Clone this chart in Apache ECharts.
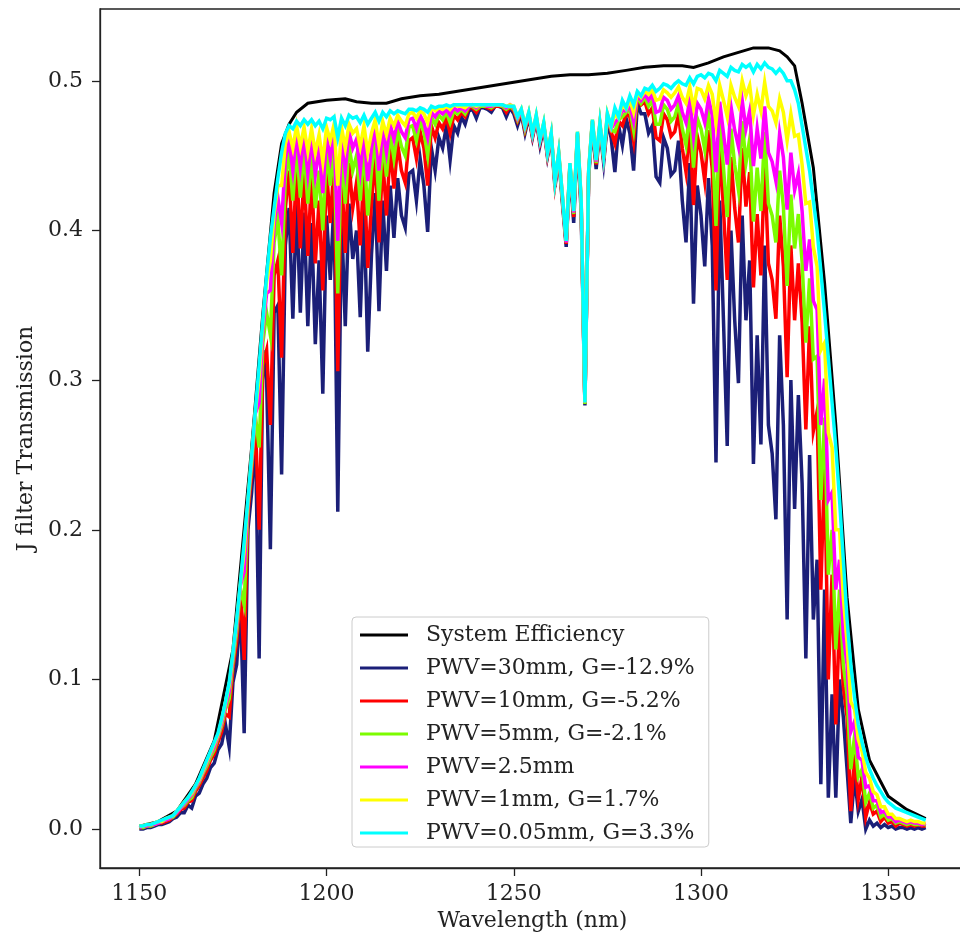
<!DOCTYPE html>
<html><head><meta charset="utf-8">
<script src="https://cdn.jsdelivr.net/npm/echarts@6/dist/echarts.min.js"></script>
<style>html,body{margin:0;padding:0;background:#fff}#c{width:960px;height:938px}</style>
</head><body><div id="c"></div>
<script>
// Wavelength grid (nm)
const wavelength = [
1150,1151,1152,1153,1154,1155,1156,1157,1158,1159,
1160,1161,1162,1163,1164,1165,1166,1167,1168,1169,
1170,1171,1172,1173,1174,1175,1176,1177,1178,1179,
1180,1181,1182,1183,1184,1185,1186,1187,1188,1189,
1190,1191,1192,1193,1194,1195,1196,1197,1198,1199,
1200,1201,1202,1203,1204,1205,1206,1207,1208,1209,
1210,1211,1212,1213,1214,1215,1216,1217,1218,1219,
1220,1221,1222,1223,1224,1225,1226,1227,1228,1229,
1230,1231,1232,1233,1234,1235,1236,1237,1238,1239,
1240,1241,1242,1243,1244,1245,1246,1247,1248,1249,
1250,1251,1252,1253,1254,1255,1256,1257,1258,1259,
1260,1261,1262,1263,1264,1265,1266,1267,1268,1269,
1270,1271,1272,1273,1274,1275,1276,1277,1278,1279,
1280,1281,1282,1283,1284,1285,1286,1287,1288,1289,
1290,1291,1292,1293,1294,1295,1296,1297,1298,1299,
1300,1301,1302,1303,1304,1305,1306,1307,1308,1309,
1310,1311,1312,1313,1314,1315,1316,1317,1318,1319,
1320,1321,1322,1323,1324,1325,1326,1327,1328,1329,
1330,1331,1332,1333,1334,1335,1336,1337,1338,1339,
1340,1341,1342,1343,1344,1345,1346,1347,1348,1349,
1350,1351,1352,1353,1354,1355,1356,1357,1358,1359,
1360];

const pwv30 = [
.000,.000,.001,.001,.002,.003,.003,.004,.005,.007,
.008,.011,.011,.016,.014,.022,.024,.030,.034,.041,
.044,.053,.057,.070,.055,.098,.110,.150,.064,.200,
.225,.265,.114,.320,.300,.187,.345,.350,.237,.390,
.415,.341,.420,.345,.412,.336,.405,.324,.380,.291,
.410,.367,.420,.212,.410,.336,.418,.381,.400,.342,
.415,.319,.384,.425,.346,.420,.373,.430,.395,.435,
.410,.402,.438,.440,.420,.448,.430,.399,.455,.440,
.462,.455,.470,.447,.470,.465,.476,.471,.480,.481,
.475,.482,.482,.481,.479,.483,.483,.482,.476,.482,
.478,.470,.478,.465,.476,.462,.474,.457,.469,.449,
.462,.429,.449,.418,.389,.442,.405,.463,.412,.283,
.436,.470,.441,.468,.445,.472,.462,.439,.470,.457,
.475,.465,.440,.485,.478,.478,.465,.470,.436,.432,
.462,.455,.437,.440,.460,.420,.392,.445,.351,.430,
.410,.376,.435,.390,.245,.420,.340,.256,.400,.340,
.298,.410,.340,.380,.244,.330,.257,.390,.270,.251,
.207,.330,.270,.140,.300,.214,.290,.231,.114,.250,
.140,.180,.030,.160,.021,.090,.021,.100,.075,.040,
.004,.035,.012,.020,.000,.006,.002,.004,.001,.003,
.001,.002,.000,.001,.001,.000,.001,.000,.001,.000,
.001];

const pwv10 = [
.001,.001,.002,.002,.003,.004,.004,.005,.006,.008,
.010,.013,.014,.018,.019,.025,.029,.034,.039,.046,
.050,.058,.065,.077,.075,.108,.125,.158,.113,.210,
.238,.272,.200,.310,.320,.270,.370,.380,.315,.415,
.440,.385,.445,.388,.440,.383,.438,.378,.420,.360,
.440,.405,.445,.306,.440,.385,.445,.415,.432,.390,
.442,.375,.418,.450,.392,.448,.410,.455,.428,.458,
.440,.432,.460,.462,.448,.466,.455,.430,.470,.462,
.472,.468,.476,.465,.477,.474,.479,.476,.482,.482,
.479,.483,.483,.482,.481,.483,.483,.483,.479,.483,
.480,.473,.479,.467,.477,.463,.475,.459,.470,.450,
.463,.431,.450,.420,.391,.443,.409,.464,.416,.284,
.438,.472,.444,.470,.447,.475,.466,.458,.473,.470,
.478,.476,.460,.489,.484,.486,.478,.482,.462,.460,
.478,.474,.463,.466,.478,.455,.439,.471,.417,.463,
.452,.433,.467,.441,.360,.459,.414,.367,.449,.415,
.392,.455,.416,.439,.362,.411,.370,.445,.378,.367,
.341,.410,.376,.302,.390,.340,.378,.339,.267,.336,
.266,.279,.160,.243,.100,.170,.070,.140,.095,.075,
.012,.050,.020,.035,.008,.018,.010,.012,.005,.008,
.004,.005,.002,.004,.003,.002,.003,.002,.003,.002,
.002];

const pwv5 = [
.001,.001,.002,.002,.003,.004,.005,.006,.007,.008,
.011,.014,.016,.019,.021,.027,.031,.037,.042,.048,
.053,.061,.069,.080,.087,.112,.132,.161,.150,.215,
.244,.276,.255,.325,.345,.330,.392,.408,.370,.435,
.452,.420,.456,.422,.454,.418,.452,.415,.440,.400,
.454,.430,.457,.358,.454,.418,.457,.440,.450,.420,
.456,.410,.440,.462,.420,.460,.436,.465,.448,.467,
.456,.450,.469,.470,.460,.473,.466,.450,.476,.471,
.477,.474,.479,.472,.480,.478,.481,.478,.483,.483,
.481,.483,.483,.483,.482,.484,.484,.483,.481,.483,
.481,.474,.480,.468,.478,.464,.476,.460,.471,.451,
.464,.432,.451,.421,.392,.444,.411,.465,.418,.284,
.439,.473,.445,.471,.448,.476,.467,.466,.474,.476,
.479,.481,.467,.490,.485,.489,.483,.487,.471,.471,
.484,.481,.473,.476,.485,.468,.457,.480,.442,.475,
.468,.454,.478,.461,.403,.474,.442,.409,.468,.444,
.427,.473,.445,.461,.406,.442,.413,.466,.418,.410,
.392,.440,.416,.363,.424,.388,.411,.379,.325,.368,
.314,.316,.220,.275,.170,.200,.120,.160,.110,.090,
.040,.062,.035,.040,.018,.024,.014,.016,.008,.010,
.006,.007,.004,.005,.004,.003,.004,.003,.003,.003,
.003];

const pwv2p5 = [
.001,.002,.002,.003,.003,.004,.005,.006,.007,.009,
.011,.014,.017,.020,.023,.028,.032,.038,.044,.050,
.055,.062,.071,.082,.092,.115,.136,.163,.172,.217,
.247,.278,.285,.333,.358,.360,.404,.422,.405,.448,
.460,.440,.465,.442,.463,.438,.462,.437,.455,.425,
.463,.448,.466,.393,.463,.440,.466,.455,.461,.440,
.465,.433,.455,.469,.440,.468,.452,.471,.461,.473,
.466,.462,.474,.475,.468,.477,.472,.462,.479,.476,
.480,.478,.481,.477,.482,.480,.482,.480,.483,.484,
.482,.484,.484,.483,.483,.484,.484,.484,.482,.484,
.482,.475,.480,.469,.478,.464,.476,.460,.471,.451,
.464,.432,.451,.422,.392,.444,.412,.465,.419,.285,
.439,.473,.446,.471,.449,.477,.468,.472,.475,.480,
.480,.484,.473,.491,.487,.491,.487,.491,.479,.480,
.489,.487,.481,.484,.490,.479,.472,.488,.463,.485,
.481,.472,.488,.477,.439,.486,.465,.444,.483,.467,
.456,.487,.468,.480,.443,.468,.448,.483,.452,.446,
.433,.465,.449,.414,.452,.427,.438,.413,.373,.394,
.353,.347,.270,.301,.220,.225,.160,.180,.130,.110,
.065,.072,.048,.046,.028,.029,.019,.019,.011,.012,
.008,.008,.005,.006,.005,.004,.005,.004,.004,.003,
.004];

const pwv1 = [
.002,.002,.003,.003,.004,.005,.005,.007,.008,.009,
.012,.015,.018,.021,.024,.029,.033,.039,.045,.051,
.057,.063,.073,.084,.096,.117,.139,.164,.186,.219,
.249,.279,.302,.338,.366,.380,.411,.430,.430,.458,
.466,.455,.470,.456,.469,.453,.468,.452,.464,.446,
.469,.460,.471,.430,.469,.455,.471,.465,.468,.456,
.470,.452,.465,.474,.457,.473,.464,.475,.470,.477,
.473,.470,.478,.479,.475,.480,.478,.472,.482,.480,
.482,.481,.483,.481,.484,.483,.483,.482,.484,.484,
.483,.484,.484,.484,.484,.484,.484,.484,.483,.484,
.483,.476,.481,.470,.479,.465,.477,.461,.472,.452,
.465,.433,.452,.423,.393,.445,.413,.466,.420,.285,
.440,.474,.447,.472,.450,.478,.469,.478,.475,.484,
.481,.487,.479,.492,.489,.493,.491,.494,.487,.488,
.494,.492,.489,.492,.496,.489,.485,.496,.482,.495,
.494,.488,.497,.491,.472,.497,.487,.476,.497,.489,
.483,.500,.490,.497,.477,.491,.480,.499,.483,.480,
.472,.488,.479,.460,.478,.463,.464,.444,.418,.419,
.389,.376,.320,.325,.265,.255,.200,.200,.155,.125,
.085,.080,.060,.052,.038,.034,.025,.023,.015,.015,
.010,.010,.007,.007,.006,.005,.006,.005,.005,.004,
.004];

const pwv005 = [
.002,.002,.003,.003,.004,.005,.006,.007,.008,.009,
.012,.015,.018,.021,.025,.029,.034,.040,.046,.052,
.058,.064,.074,.085,.098,.118,.140,.165,.192,.220,
.250,.280,.310,.340,.370,.395,.415,.435,.452,.465,
.470,.468,.473,.470,.474,.471,.474,.470,.473,.468,
.475,.474,.476,.462,.475,.470,.477,.475,.476,.472,
.477,.471,.475,.479,.473,.479,.476,.480,.478,.480,
.479,.478,.481,.481,.480,.482,.481,.479,.483,.482,
.483,.483,.484,.483,.484,.484,.484,.484,.484,.484,
.484,.484,.484,.484,.484,.484,.484,.484,.483,.483,
.483,.476,.481,.470,.479,.465,.477,.461,.472,.452,
.465,.433,.452,.423,.393,.445,.413,.466,.420,.285,
.440,.474,.447,.472,.450,.478,.470,.482,.476,.487,
.482,.490,.484,.493,.490,.495,.494,.497,.493,.495,
.498,.497,.495,.498,.500,.498,.497,.502,.498,.503,
.504,.502,.505,.504,.500,.507,.505,.503,.509,.507,
.506,.511,.509,.511,.506,.511,.508,.512,.509,.508,
.505,.508,.505,.500,.500,.494,.485,.470,.455,.440,
.420,.400,.373,.345,.315,.285,.255,.220,.180,.140,
.110,.088,.070,.058,.048,.040,.034,.029,.025,.021,
.018,.016,.014,.013,.012,.011,.010,.009,.008,.007,
.006];

// System efficiency (black) sampled more coarsely
const sysWavelength = [1150,1155,1160,1165,1170,1175,1180,1183,1186,1188,1190,1192,1195,1200,1205,1208,1212,1216,1220,1225,1230,1235,1240,1245,1250,1255,1260,1265,1270,1275,1280,1285,1290,1295,1298,1302,1306,1310,1314,1318,1321,1323,1325,1327,1330,1333,1336,1339,1342,1345,1350,1355,1360];
const sysEfficiency = [.002,.005,.012,.030,.059,.120,.255,.345,.425,.458,.471,.479,.485,.487,.488,.486,.485,.485,.488,.490,.491,.493,.495,.497,.499,.501,.503,.504,.504,.505,.507,.509,.510,.510,.509,.512,.516,.519,.522,.522,.520,.516,.510,.485,.442,.365,.270,.155,.080,.046,.022,.013,.007];

const seriesNames = ['System Efficiency','PWV=30mm, G=-12.9%','PWV=10mm, G=-5.2%','PWV=5mm, G=-2.1%','PWV=2.5mm','PWV=1mm, G=1.7%','PWV=0.05mm, G=3.3%'];
const seriesColors = ['#000000','#1b1f78','#ff0000','#7cfc00','#ff00ff','#ffff00','#00ffff'];
const xTicks = [1150,1200,1250,1300,1350];
const yTicks = [0,0.1,0.2,0.3,0.4,0.5];

const FONT = 'DejaVu Serif';
const FS = 22;
const zip = (xs, ys) => xs.map((x, i) => [x, ys[i]]);
const dataSets = [zip(sysWavelength, sysEfficiency), zip(wavelength, pwv30), zip(wavelength, pwv10),
  zip(wavelength, pwv5), zip(wavelength, pwv2p5), zip(wavelength, pwv1), zip(wavelength, pwv005)];

const chart = echarts.init(document.getElementById('c'), null, {renderer: 'canvas'});
chart.setOption({
  animation: false,
  backgroundColor: '#ffffff',
  grid: {left: 100, top: 9, width: 865, height: 859, show: true, borderColor: '#222', borderWidth: 1.3,
         containLabel: false, outerBoundsMode: 'none', backgroundColor: 'transparent'},
  xAxis: {
    type: 'value', min: 1139.5, max: 1370.5,
    name: 'Wavelength (nm)', nameLocation: 'middle', nameGap: 37,
    nameTextStyle: {fontFamily: FONT, fontSize: FS, color: '#222'},
    axisLine: {show: true, onZero: false, lineStyle: {color: '#222', width: 1.3}},
    axisTick: {show: true, inside: false, length: 8, lineStyle: {color: '#222', width: 1.3}, customValues: xTicks},
    axisLabel: {customValues: xTicks, fontFamily: FONT, fontSize: FS, color: '#222', margin: 15,
                formatter: v => String(Math.round(v))},
    splitLine: {show: false}
  },
  yAxis: {
    type: 'value', min: -0.026, max: 0.548,
    name: 'J filter Transmission', nameLocation: 'middle', nameGap: 62, nameRotate: 90,
    nameTextStyle: {fontFamily: FONT, fontSize: FS, color: '#222'},
    axisLine: {show: true, onZero: false, lineStyle: {color: '#222', width: 1.3}},
    axisTick: {show: true, inside: false, length: 8, lineStyle: {color: '#222', width: 1.3}, customValues: yTicks},
    axisLabel: {customValues: yTicks, fontFamily: FONT, fontSize: FS, color: '#222', margin: 17,
                formatter: v => Number(v).toFixed(1)},
    splitLine: {show: false}
  },
  legend: {
    show: true, orient: 'vertical', left: 352, top: 617, z: 20,
    data: seriesNames, icon: 'rect', itemWidth: 48, itemHeight: 3, itemGap: 9,
    padding: [6, 14, 2, 8], borderColor: '#cccccc', borderWidth: 1, borderRadius: 4,
    backgroundColor: 'rgba(255,255,255,0.85)',
    textStyle: {fontFamily: FONT, fontSize: FS, color: '#222', lineHeight: 24, padding: [0, 0, 0, 13]},
    selectedMode: false
  },
  series: seriesNames.map((name, i) => ({
    name: name, type: 'line', data: dataSets[i], color: seriesColors[i],
    showSymbol: false, symbol: 'none', z: 2 + i, clip: true,
    lineStyle: {color: seriesColors[i], width: i === 0 ? 3 : 3.5, join: 'miter'},
    itemStyle: {color: seriesColors[i]},
    emphasis: {disabled: true}
  }))
});
</script></body></html>
